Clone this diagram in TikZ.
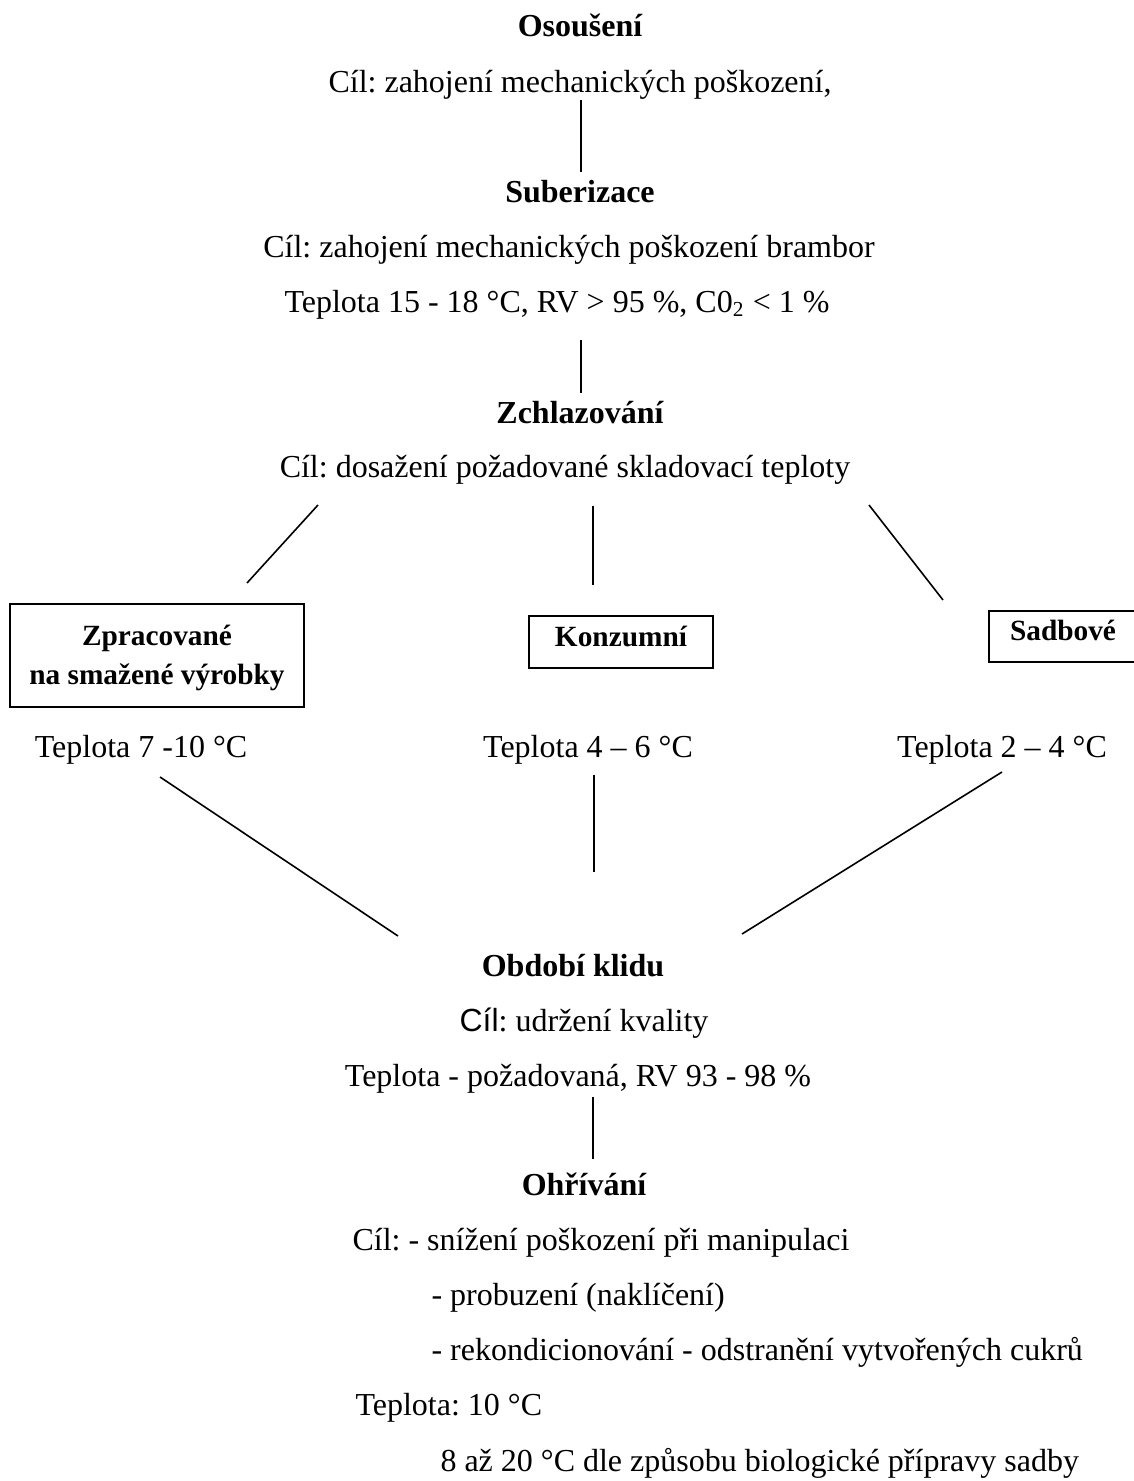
\documentclass[tikz,border=0pt]{standalone}
\usepackage{fontspec}
\setmainfont{Liberation Serif}
\newfontfamily\arialf{Liberation Sans}
\frenchspacing
\begin{document}
\begin{tikzpicture}[x=0.375pt,y=-0.375pt,
  txt/.style={inner sep=0pt,font=\fontsize{12}{14}\selectfont,anchor=base},
  ltxt/.style={txt,anchor=base west},
  btxt/.style={txt,font=\fontsize{12}{14}\selectfont\bfseries},
  bxtxt/.style={txt,font=\fontsize{11}{13}\selectfont\bfseries},
  conn/.style={line width=0.6pt},
  boxst/.style={draw,line width=0.8pt}]
\useasboundingbox (0,0) rectangle (1133,1481);
% top
\node[btxt] (oso) at (580,37) {Osoušení};
\node[txt] (osocil) at (580,92) {Cíl: zahojení mechanických poškození,};
\node[btxt] (sub) at (580,202) {Suberizace};
\node[txt] (subcil) at (569,257) {Cíl: zahojení mechanických poškození brambor};
\node[txt] (subtep) at (557,312) {Teplota 15 - 18 °C, RV > 95 \%, C0\textsubscript{2} < 1 \%};
\node[btxt] (zch) at (580,423) {Zchlazování};
\node[txt] (zchcil) at (565,477) {Cíl: dosažení požadované skladovací teploty};
% boxes
\node[boxst,minimum width=294*0.375pt,minimum height=103*0.375pt,inner sep=0pt] (zpr) at (157,655.5) {};
\node[bxtxt] (zprA) at (157,645) {Zpracované};
\node[bxtxt] (zprB) at (157,684) {na smažené výrobky};
\node[boxst,minimum width=184*0.375pt,minimum height=52*0.375pt,inner sep=0pt] (kon) at (621,642) {};
\node[bxtxt] (konT) at (621,646) {Konzumní};
\draw[boxst] (989,611) rectangle (1136,662);
\node[bxtxt] (sad) at (1063,640) {Sadbové};
% temperatures
\node[txt] (t1) at (141,757) {Teplota 7 -10 °C};
\node[txt] (t2) at (588,757) {Teplota 4 – 6 °C};
\node[txt] (t3) at (1002,757) {Teplota 2 – 4 °C};
% rest
\node[btxt] (obd) at (573,976) {Období klidu};
\node[txt] (obdcil) at (584,1031) {{\arialf Cíl}: udržení kvality};
\node[txt] (obdtep) at (578,1086) {Teplota - požadovaná, RV 93 - 98 \%};
\node[btxt] (ohr) at (584,1195) {Ohřívání};
\node[ltxt] (o1) at (352,1250) {Cíl: - snížení poškození při manipulaci};
\node[ltxt] (o2) at (431,1305) {- probuzení (naklíčení)};
\node[ltxt] (o3) at (431,1360) {- rekondicionování - odstranění vytvořených cukrů};
\node[ltxt] (o4) at (355,1415) {Teplota: 10 °C};
\node[ltxt] (o5) at (440,1471) {8 až 20 °C dle způsobu biologické přípravy sadby};
% connector endpoints
\coordinate (a1) at (581,100); \coordinate (a2) at (581,172);
\coordinate (b1) at (581,340); \coordinate (b2) at (581,393);
\coordinate (c1) at (318,505); \coordinate (c2) at (247,583);
\coordinate (d1) at (593,506); \coordinate (d2) at (593,585);
\coordinate (e1) at (869,505); \coordinate (e2) at (943,600);
\coordinate (f1) at (160,777); \coordinate (f2) at (398,936);
\coordinate (g1) at (594,775); \coordinate (g2) at (594,872);
\coordinate (h1) at (1002,772); \coordinate (h2) at (742,934);
\coordinate (i1) at (593,1097); \coordinate (i2) at (593,1159);
\draw[conn] (a1) -- (a2);
\draw[conn] (b1) -- (b2);
\draw[conn] (c1) -- (c2);
\draw[conn] (d1) -- (d2);
\draw[conn] (e1) -- (e2);
\draw[conn] (f1) -- (f2);
\draw[conn] (g1) -- (g2);
\draw[conn] (h1) -- (h2);
\draw[conn] (i1) -- (i2);
\end{tikzpicture}
\end{document}
